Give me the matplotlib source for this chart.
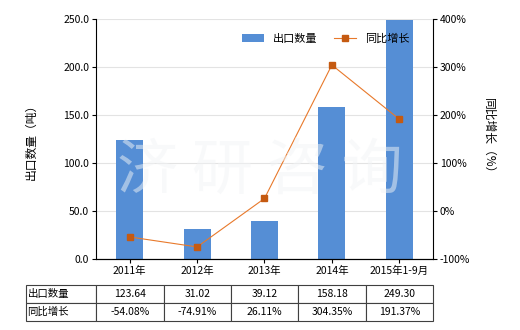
import matplotlib.pyplot as plt
import numpy as np

plt.rcParams['font.family'] = ['Noto Sans CJK SC', 'DejaVu Sans']

years = ['2011年', '2012年', '2013年', '2014年', '2015年1-9月']
qty = [123.64, 31.02, 39.12, 158.18, 249.30]
growth = [-54.08, -74.91, 26.11, 304.35, 191.37]
qty_labels = ['123.64', '31.02', '39.12', '158.18', '249.30']
growth_labels = ['-54.08%', '-74.91%', '26.11%', '304.35%', '191.37%']

fig = plt.figure(figsize=(5.2, 3.3), dpi=100)
ax = fig.add_axes([0.1846, 0.2152, 0.648, 0.727])
x = np.arange(len(years))

ax.bar(x, qty, width=0.4, color='#558ED5', label='出口数量', zorder=2)
ax.set_xlim(-0.5, 4.5)
ax.set_ylim(0, 250)
ax.set_yticks(np.arange(0, 251, 50))
ax.set_yticklabels(['%.1f' % v for v in np.arange(0, 251, 50)], fontsize=7.5)
ax.set_xticks(x)
ax.set_xticklabels(years, fontsize=7.5)
ax.grid(axis='y', color='#E3E3E3', linewidth=0.8, zorder=0)
ax.set_ylabel('出口数量（吨）', fontsize=8.5, labelpad=18)
for s in ['top', 'right']:
    ax.spines[s].set_visible(False)
ax.tick_params(length=3, width=0.8, pad=2)

ax2 = ax.twinx()
ax2.plot(x, growth, color='#E8792B', linewidth=0.8, marker='s', markersize=4,
         markerfacecolor='#C55A11', markeredgecolor='#C55A11', label='同比增长')
ax2.set_ylim(-100, 400)
ax2.set_yticks(np.arange(-100, 401, 100))
ax2.set_yticklabels(['%d%%' % v for v in np.arange(-100, 401, 100)], fontsize=7.5)
ax2.set_ylabel('同比增长（%）', fontsize=8.5, rotation=-90, labelpad=18)
for s in ['top', 'left']:
    ax2.spines[s].set_visible(False)
ax2.tick_params(length=3, width=0.8, pad=2)

# watermark
fig.text(0.5, 0.48, '济 研 咨 询', fontsize=44, color='#F2F4F6', ha='center', va='center',
         zorder=0, alpha=0.5)

h1, l1 = ax.get_legend_handles_labels()
h2, l2 = ax2.get_legend_handles_labels()
ax2.legend(h1 + h2, l1 + l2, loc='upper right', bbox_to_anchor=(0.96, 0.98), ncol=2,
           frameon=False, fontsize=8, handlelength=2.0, columnspacing=1.5)

# data table
cells = [['出口数量'] + qty_labels, ['同比增长'] + growth_labels]
tb = ax.table(cellText=cells, bbox=[-0.2077, -0.2583, 1.2077, 0.15],
              colWidths=[70] + [67] * 5, cellLoc='center')
tb.auto_set_font_size(False)
tb.set_fontsize(7.5)
for (r, c), cell in tb.get_celld().items():
    cell.set_edgecolor('#404040')
    cell.set_linewidth(0.8)
    if c == 0:
        cell.set_text_props(ha='left')
        cell.PAD = 0.02

fig.savefig('out.png', dpi=100)
